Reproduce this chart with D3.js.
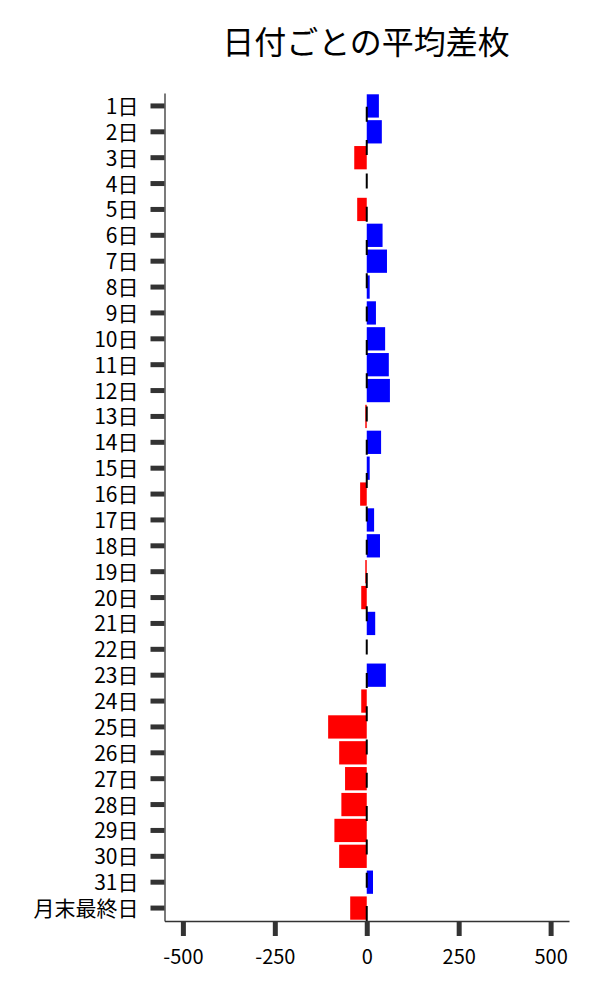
<!DOCTYPE html>
<html lang="ja">
<head>
<meta charset="UTF-8">
<title>日付ごとの平均差枚</title>
<script src="https://cdn.jsdelivr.net/npm/d3@7"></script>
<style>
    html, body { margin: 0; background: #fff; }
    svg { display: block; font-family: "Noto Sans CJK JP", "Noto Sans", sans-serif; }
</style>
</head>
<body>
<div id="chart"></div>
<script>
    // 日付ラベル
    const days = ["1日", "2日", "3日", "4日", "5日", "6日", "7日", "8日", "9日", "10日",
        "11日", "12日", "13日", "14日", "15日", "16日", "17日", "18日", "19日", "20日",
        "21日", "22日", "23日", "24日", "25日", "26日", "27日", "28日", "29日", "30日",
        "31日", "月末最終日"];

    // 平均差枚
    const avgDiff = [33, 41, -34, 0, -26, 43, 55, 8, 25, 50,
        60, 63, -4, 39, 8, -18, 20, 36, -4, -15,
        23, 0, 52, -15, -105, -75, -59, -69, -88, -75,
        17, -45];

    const xTicks = [-500, -250, 0, 250, 500];

    const width = 600;
    const height = 1000;
    const margin = { top: 93, right: 31, bottom: 79, left: 164.5 };

    const svg = d3.select("#chart").append("svg")
        .attr("width", width)
        .attr("height", height);

    const x = d3.scaleLinear()
        .domain([-550, 550])
        .range([margin.left, width - margin.right]);

    const y = d3.scaleBand()
        .domain(days)
        .range([margin.top, height - margin.bottom])
        .paddingInner(0.1)
        .paddingOuter(0.05);

    // bars
    svg.append("g")
        .selectAll("rect")
        .data(days.map((d, i) => ({ day: d, value: avgDiff[i] })))
        .join("rect")
        .attr("x", d => x(Math.min(0, d.value)))
        .attr("y", d => y(d.day))
        .attr("width", d => Math.abs(x(d.value) - x(0)))
        .attr("height", y.bandwidth())
        .attr("fill", d => d.value >= 0 ? "#0000ff" : "#ff0000");

    // dashed zero line
    svg.append("line")
        .attr("x1", x(0)).attr("x2", x(0))
        .attr("y1", height - margin.bottom)
        .attr("y2", margin.top)
        .attr("stroke", "#000")
        .attr("stroke-width", 2)
        .attr("stroke-dasharray", "15,18.3");

    // y axis
    const yAxis = svg.append("g")
        .attr("transform", `translate(${margin.left},0)`)
        .call(d3.axisLeft(y).tickSize(14).tickPadding(12).tickSizeOuter(0));

    // x axis (plain hyphen for negatives, like the original)
    const xAxis = svg.append("g")
        .attr("transform", `translate(0,${height - margin.bottom})`)
        .call(d3.axisBottom(x).tickValues(xTicks).tickFormat(d => String(d))
            .tickSize(15).tickPadding(14).tickSizeOuter(0));

    [yAxis, xAxis].forEach(g => {
        g.select(".domain").attr("stroke", "#333").attr("stroke-width", 1.3);
        g.selectAll(".tick line").attr("stroke", "#333").attr("stroke-width", 5);
        g.selectAll(".tick text")
            .attr("fill", "#000")
            .style("font-family", "'Noto Sans CJK JP', 'Noto Sans', sans-serif");
    });
    yAxis.selectAll(".tick text").style("font-size", "21px").attr("dy", "0.38em");
    xAxis.selectAll(".tick text").style("font-size", "20px");

    // title
    svg.append("text")
        .attr("x", 366)
        .attr("y", 54)
        .attr("text-anchor", "middle")
        .style("font-size", "32px")
        .attr("fill", "#000")
        .text("日付ごとの平均差枚");
</script>
</body>
</html>
